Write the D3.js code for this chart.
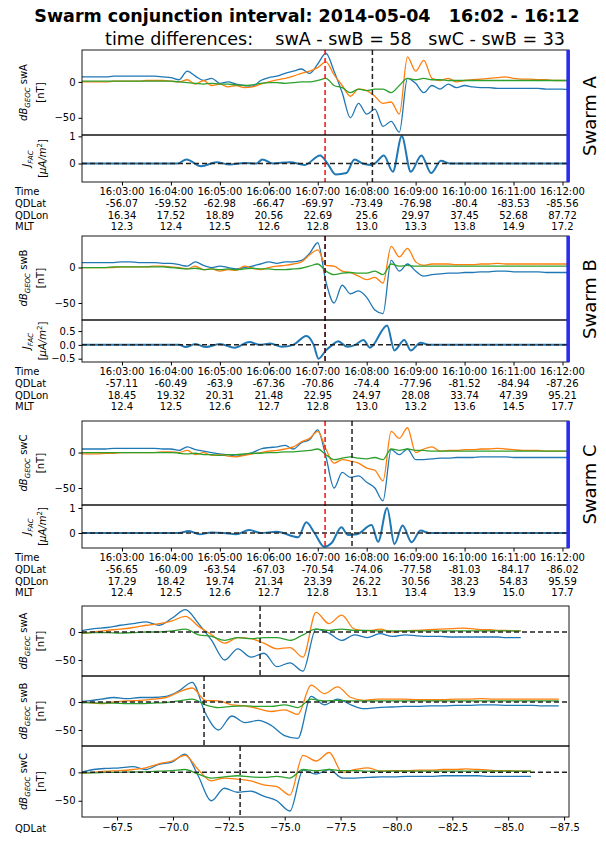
<!DOCTYPE html>
<html>
<head>
<meta charset="utf-8">
<script src="https://cdn.jsdelivr.net/npm/d3@7"></script>
<style>
  body { margin: 0; background: #fff; }
  text { font-family: "DejaVu Sans", sans-serif; white-space: pre; }
</style>
</head>
<body>
<script>
// samples every 10 s, starting 16:02:10 (seconds after 16:00)
var t0 = 130, dt = 10;

var bA_blue = [7,7,7,7,8,8,8,8,8,8,7,6, 3,15,8,2,5,-2,0,-3,-5,-6,2,6,8,12,15,18,12,25,
  40,15,-15,-50,-30,-45,-38,-62,-55,-70, 5,-2,-15,-5,-10,-3,-8,-5,-7,-8,-8,-9,-9,-9,-9,-9,-9,-10,-10,-10,-11];
var bA_orange = [0,0,0,0,1,1,1,1,2,2,2,1, 0,3,-3,2,-5,-3,-7,-5,-8,-7,-3,0,3,5,8,12,15,20,
  28,10,-5,-20,-10,-12,-20,-30,-28,-45, 35,15,30,5,2,5,0,2,3,4,5,6,7,5,4,4,3,3,2,2,2];
var bA_green = [1,1,1,1,1,1,1,1,1,1,1,1, 0,-1,-2,-3,-2,-3,-3,-4,-5,-4,-2,-1,-1,-2,-1,0,0,2,
  5,-5,-8,-15,-10,-12,-10,-10,-15,-5, 5,3,5,3,3,2,2,2,2,2,2,2,2,2,2,2,2,2,2,2,2];

var bB_blue = [7,7,7,7,7,8,8,7,7,7,6,6, 4,2,8,3,0,2,0,-2,0,2,5,8,6,8,8,10,20,35,
  -20,-50,-25,-37,-33,-42,-60,-65,10,-5, 5,-5,-12,-10,-9,-8,-8,-7,-7,-6,-6,-5,-5,-6,-6,-6,-6,-7,-7,-7,-7];
var bB_orange = [0,0,0,0,0,1,1,1,1,2,2,1, 0,-2,2,-3,-2,-5,-3,-4,2,-1,-3,0,2,3,5,8,18,25,
  3,2,-5,-7,-12,-17,-14,-22,30,15, 27,8,3,5,5,5,4,4,4,5,5,6,5,5,5,5,5,5,5,5,5];
var bB_green = [0,0,0,0,1,1,1,1,1,1,1,0, -1,-2,-1,-3,-2,-3,-2,-3,-2,-1,-2,-2,-3,-3,-2,-1,2,5,
  -5,-10,-8,-7,-8,-8,-5,-10,5,2, 3,2,2,2,2,2,2,2,2,2,2,2,2,2,2,2,2,2,2,2,2];

var bC_blue = [5,5,5,5,6,6,6,6,6,6,5,5, 3,8,4,2,0,-2,-3,-5,-3,0,5,7,8,10,5,14,18,32,
  -6,-50,-28,-35,-33,-42,-50,-68,4,-3, 5,-10,-10,-9,-8,-8,-7,-7,-7,-6,-6,-6,-6,-7,-7,-7,-7,-7,-7,-7,-7];
var bC_orange = [-2,-2,-2,-1,-1,0,0,0,0,0,1,1, 0,3,-3,0,-4,-3,-5,-6,-4,-2,0,2,3,5,8,15,20,30,
  5,-15,-10,-12,-15,-22,-25,-40,30,20, 35,0,5,8,2,3,3,4,4,5,5,6,5,4,3,3,3,2,2,2,2];
var bC_green = [0,0,0,0,0,0,0,0,0,0,0,0, -1,-2,-1,-3,-3,-4,-3,-3,-2,-1,-1,0,0,1,1,2,3,5,
  -3,-10,-8,-6,-8,-9,-7,-10,5,3, 5,3,3,2,2,2,2,2,2,2,2,2,2,2,2,2,2,2,2,2,2];

// field-aligned current, read at turning points [seconds after 16:00, uA/m2]
var facA = [[130,0],[248,0],[259,0.15],[277,-0.1],[296,0.05],[312,-0.04],[330,0.02],[345,0],[352,0.15],[365,0],
  [386,0.05],[404,-0.05],[423,0.3],[432,0],[442,-0.4],[455,-0.35],[465,0.15],[475,0],[485,-0.05],[490,0],
  [501,0.3],[512,-0.3],[523,1.0],[534,-0.3],[547,0.3],[559,-0.35],[571,0.1],[582,0],[733,0]];
var facB = [[130,0],[250,0],[258,-0.08],[270,0.03],[283,-0.08],[300,0.03],[318,-0.1],[336,0.1],[349,0],[362,0.05],
  [376,-0.07],[390,0],[406,0.32],[415,0],[421,-0.5],[430,-0.2],[438,0],[445,0.13],[456,-0.07],[466,0],
  [476,0.18],[484,-0.1],[505,0.7],[514,-0.2],[526,0.18],[534,-0.2],[546,0.08],[556,0],[733,0]];
var facC = [[130,0],[250,0],[262,0.08],[275,-0.05],[290,0.02],[305,0],[320,-0.05],[336,0.12],[350,0],[370,0.05],
  [396,-0.17],[406,0.43],[416,0],[428,-0.55],[437,-0.4],[449,0.23],[457,-0.08],[468,-0.05],[486,0.32],[494,-0.35],
  [505,1.0],[514,-0.44],[524,0.3],[535,-0.37],[546,0.1],[556,0],[733,0]];

// tick table
var tickSec = [180,240,300,360,420,480,540,600,660,720];
var timeLabels = ["16:03:00","16:04:00","16:05:00","16:06:00","16:07:00","16:08:00","16:09:00","16:10:00","16:11:00","16:12:00"];
var qdlatA = [-56.07,-59.52,-62.98,-66.47,-69.97,-73.49,-76.98,-80.4,-83.53,-85.56];
var qdlonA = ["16.34","17.52","18.89","20.56","22.69","25.6","29.97","37.45","52.68","87.72"];
var mltA = ["12.3","12.4","12.5","12.6","12.8","13.0","13.3","13.8","14.9","17.2"];
var qdlatB = [-57.11,-60.49,-63.9,-67.36,-70.86,-74.4,-77.96,-81.52,-84.94,-87.26];
var qdlonB = ["18.45","19.32","20.31","21.48","22.95","24.97","28.08","33.74","47.39","95.21"];
var mltB = ["12.4","12.5","12.6","12.7","12.8","13.0","13.2","13.6","14.5","17.7"];
var qdlatC = [-56.65,-60.09,-63.54,-67.03,-70.54,-74.06,-77.58,-81.03,-84.17,-86.02];
var qdlonC = ["17.29","18.42","19.74","21.34","23.39","26.22","30.56","38.23","54.83","95.59"];
var mltC = ["12.4","12.5","12.6","12.7","12.8","13.1","13.4","13.9","15.0","17.7"];

var conjTime = 429;                 // red line, swB reference
var satTime = {A: 487, B: 429, C: 462};
var latTicks = [-67.5,-70,-72.5,-75,-77.5,-80,-82.5,-85,-87.5];

var colors = ["#1f77b4", "#ff7f0e", "#2ca02c"];
var W = 606, H = 841, L = 82, R = 569;

var svg = d3.select("body").append("svg").attr("width", W).attr("height", H);

svg.append("text").attr("x", 307).attr("y", 22).attr("text-anchor", "middle")
  .style("font-size", "17.5px").style("font-weight", "bold")
  .text("Swarm conjunction interval: 2014-05-04   16:02 - 16:12");
svg.append("text").attr("x", 335).attr("y", 45).attr("text-anchor", "middle")
  .style("font-size", "17.5px")
  .text("time differences:    swA - swB = 58   swC - swB = 33");

var x = d3.scaleLinear().domain([131, 728]).range([L, R]);

function series(arr) { return arr.map(function(v, i) { return [t0 + i * dt, v]; }); }

var clipN = 0;
function clip(y0, y1) {
  var id = "c" + (clipN++);
  svg.append("clipPath").attr("id", id).append("rect")
    .attr("x", L).attr("y", y0).attr("width", R - L).attr("height", y1 - y0);
  return "url(#" + id + ")";
}

function ylabel(cx, cy, main, sub, tail, unit, unitX) {
  var t = svg.append("text").attr("transform", "translate(" + cx + "," + cy + ") rotate(-90)")
    .attr("text-anchor", "middle").style("font-size", "10px");
  t.append("tspan").style("font-style", "italic").text(main);
  t.append("tspan").style("font-style", "italic").style("font-size", "7px").attr("dy", 2.5).text(sub);
  t.append("tspan").attr("dy", -2.5).text(tail);
  var u = svg.append("text").attr("transform", "translate(" + unitX + "," + cy + ") rotate(-90)")
    .attr("text-anchor", "middle").style("font-size", "10px");
  unit(u);
}

function nT(u) { u.text("[nT]"); }
function uA(u) {
  u.append("tspan").text("[");
  u.append("tspan").style("font-style", "italic").text("\u03bcA/m");
  u.append("tspan").style("font-size", "7px").attr("dy", -4).text("2");
  u.append("tspan").attr("dy", 4).text("]");
}

function topPanel(name, lab, bs, fac, y0, y1, y2, facDom, facTicks, facFmt, qdlat, qdlon, mlt) {
  var yb = d3.scaleLinear().domain([-74, 44.5]).range([y1, y0]);
  var yf = d3.scaleLinear().domain(facDom).range([y2, y1]);

  var cp = clip(y0, y1);
  var line = d3.line().curve(d3.curveMonotoneX)
    .x(function(d) { return x(d[0]); }).y(function(d) { return yb(d[1]); });
  bs.forEach(function(s, k) {
    svg.append("path").attr("clip-path", cp).attr("d", line(series(s)))
      .attr("fill", "none").attr("stroke", colors[k]).attr("stroke-width", 1.3);
  });

  var cf = clip(y1, y2);
  var fline = d3.line().curve(d3.curveMonotoneX)
    .x(function(d) { return x(d[0]); }).y(function(d) { return yf(d[1]); });
  svg.append("path").attr("clip-path", cf).attr("d", fline(fac))
    .attr("fill", "none").attr("stroke", colors[0]).attr("stroke-width", 2);
  svg.append("line").attr("x1", L).attr("x2", R).attr("y1", yf(0)).attr("y2", yf(0))
    .attr("stroke", "#222").attr("stroke-width", 1.5).attr("stroke-dasharray", "5,3");

  // conjunction markers
  svg.append("line").attr("x1", x(conjTime)).attr("x2", x(conjTime)).attr("y1", y0).attr("y2", y2)
    .attr("stroke", "#ee2222").attr("stroke-width", 1.6).attr("stroke-dasharray", "5,3");
  svg.append("line").attr("x1", x(satTime[name])).attr("x2", x(satTime[name])).attr("y1", y0).attr("y2", y2)
    .attr("stroke", "#222").attr("stroke-width", 1.5).attr("stroke-dasharray", "5,3");

  // axes
  svg.append("g").attr("transform", "translate(" + L + ",0)")
    .call(d3.axisLeft(yb).tickValues([-50, 0]).tickSize(3.5).tickFormat(d3.format("d")));
  svg.append("g").attr("transform", "translate(" + L + ",0)")
    .call(d3.axisLeft(yf).tickValues(facTicks).tickSize(3.5).tickFormat(d3.format(facFmt)));
  svg.append("g").attr("transform", "translate(0," + y2 + ")")
    .call(d3.axisBottom(x).tickValues(tickSec).tickSize(3.5).tickFormat(""));
  svg.append("rect").attr("x", L).attr("y", y0).attr("width", R - L).attr("height", y1 - y0)
    .attr("fill", "none").attr("stroke", "#000").attr("stroke-width", 0.9);
  svg.append("rect").attr("x", L).attr("y", y1).attr("width", R - L).attr("height", y2 - y1)
    .attr("fill", "none").attr("stroke", "#000").attr("stroke-width", 0.9);

  svg.append("rect").attr("x", x(726) - 1).attr("y", y0).attr("width", 3.5).attr("height", y2 - y0)
    .attr("fill", "#2b2bf0");

  ylabel(27, (y0 + y1) / 2, "dB", "GEOC", " sw" + name, nT, 44);
  ylabel(30, (y1 + y2) / 2, "J", "FAC", "", uA, 46);

  svg.append("text").attr("transform", "translate(596," + ((y0 + y2) / 2) + ") rotate(-90)")
    .attr("text-anchor", "middle").style("font-size", "18px").text(lab);

  // tick table
  var rows = [["Time", timeLabels], ["QDLat", qdlat.map(String)], ["QDLon", qdlon], ["MLT", mlt]];
  rows.forEach(function(r, k) {
    var by = y2 + 13 + k * 11.8;
    svg.append("text").attr("x", 15).attr("y", by).style("font-size", "10px").text(r[0]);
    r[1].forEach(function(v, j) {
      svg.append("text").attr("x", x(tickSec[j])).attr("y", by).attr("text-anchor", "middle")
        .style("font-size", "10px").text(v);
    });
  });
}

topPanel("A", "Swarm A", [bA_blue, bA_orange, bA_green], facA, 50, 135, 182, [-0.68, 1.05], [0, 1], "d", qdlatA, qdlonA, mltA);
topPanel("B", "Swarm B", [bB_blue, bB_orange, bB_green], facB, 236, 320, 362, [-0.62, 0.9], [-0.5, 0, 0.5], ".1f", qdlatB, qdlonB, mltB);
topPanel("C", "Swarm C", [bC_blue, bC_orange, bC_green], facC, 421, 505, 548, [-0.6, 1.12], [0, 1], "d", qdlatC, qdlonC, mltC);

// latitude view
var xl = d3.scaleLinear().domain([-65.93, -87.72]).range([L, R]);
function latOf(qd, t) {
  var j = Math.max(0, Math.min(tickSec.length - 2, Math.floor((t - tickSec[0]) / 60)));
  var f = (t - tickSec[j]) / (tickSec[j + 1] - tickSec[j]);
  return qd[j] + f * (qd[j + 1] - qd[j]);
}

var latPanels = [
  {name: "A", qd: qdlatA, bs: [bA_blue, bA_orange, bA_green], y0: 606, y1: 676},
  {name: "B", qd: qdlatB, bs: [bB_blue, bB_orange, bB_green], y0: 676, y1: 746},
  {name: "C", qd: qdlatC, bs: [bC_blue, bC_orange, bC_green], y0: 746, y1: 817}
];
latPanels.forEach(function(p, n) {
  var y = d3.scaleLinear().domain([-78.6, 46.4]).range([p.y1, p.y0]);
  var cp = clip(p.y0, p.y1);
  var line = d3.line().curve(d3.curveMonotoneX)
    .x(function(d) { return xl(latOf(p.qd, d[0])); }).y(function(d) { return y(d[1]); });
  p.bs.forEach(function(s, k) {
    var pts = series(s).filter(function(d) { return d[0] <= 720; });
    svg.append("path").attr("clip-path", cp).attr("d", line(pts))
      .attr("fill", "none").attr("stroke", colors[k]).attr("stroke-width", 1.3);
  });
  svg.append("line").attr("x1", L).attr("x2", R).attr("y1", y(0)).attr("y2", y(0))
    .attr("stroke", "#222").attr("stroke-width", 1.5).attr("stroke-dasharray", "5,3");
  var lx = xl(latOf(p.qd, satTime[p.name]));
  svg.append("line").attr("x1", lx).attr("x2", lx).attr("y1", p.y0).attr("y2", p.y1)
    .attr("stroke", "#222").attr("stroke-width", 1.5).attr("stroke-dasharray", "5,3");
  svg.append("g").attr("transform", "translate(" + L + ",0)")
    .call(d3.axisLeft(y).tickValues([-50, 0]).tickSize(3.5).tickFormat(d3.format("d")));
  svg.append("rect").attr("x", L).attr("y", p.y0).attr("width", R - L).attr("height", p.y1 - p.y0)
    .attr("fill", "none").attr("stroke", "#000").attr("stroke-width", 0.9);
  ylabel(27, (p.y0 + p.y1) / 2, "dB", "GEOC", " sw" + p.name, nT, 44);
  if (n === 2) {
    svg.append("g").attr("transform", "translate(0," + p.y1 + ")")
      .call(d3.axisBottom(xl).tickValues(latTicks).tickSize(3.5).tickFormat(d3.format(".1f")));
  }
});
svg.append("text").attr("x", 15).attr("y", 832).style("font-size", "10px").text("QDLat");

svg.selectAll(".tick text").style("font-size", "10px").style("font-family", "DejaVu Sans, sans-serif");
svg.selectAll(".domain").remove();
svg.selectAll(".tick line").attr("stroke", "#000");
</script>
</body>
</html>
